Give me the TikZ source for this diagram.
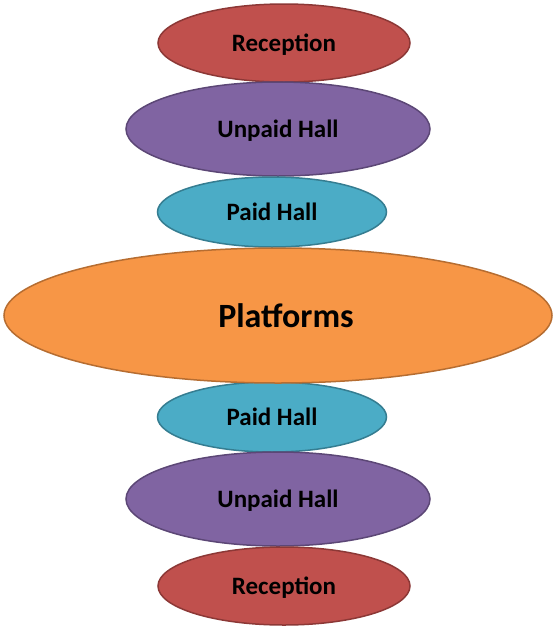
\documentclass[tikz,border=0pt]{standalone}
\usepackage{fontspec}
\setmainfont{Carlito}
\usetikzlibrary{shapes.geometric}
\definecolor{recfill}{HTML}{C0504D}
\definecolor{recline}{HTML}{8C3836}
\definecolor{unpfill}{HTML}{8064A2}
\definecolor{unpline}{HTML}{5C4776}
\definecolor{paidfill}{HTML}{4BACC6}
\definecolor{paidline}{HTML}{357D91}
\definecolor{platfill}{HTML}{F79646}
\definecolor{platline}{HTML}{B66D31}

\begin{document}
\begin{tikzpicture}[x=1pt,y=-1pt]
		\tikzstyle{zone}=[draw,shape=ellipse,inner sep=0pt,text depth=0pt,line width=1.5pt,font=\bfseries\fontsize{25}{30}\selectfont]
		\tikzstyle{reception}=[zone,fill=recfill,draw=recline,minimum width=252pt,minimum height=78pt]
		\tikzstyle{unpaid}=[zone,fill=unpfill,draw=unpline,minimum width=304pt,minimum height=94pt]
		\tikzstyle{paid}=[zone,fill=paidfill,draw=paidline,minimum width=229pt,minimum height=70pt]
		\tikzstyle{platform}=[zone,fill=platfill,draw=platline,minimum width=548pt,minimum height=135pt,font=\bfseries\fontsize{34}{40}\selectfont]

		\useasboundingbox (0,0) rectangle (553,627);

		% upper side
		\node[reception](rec1) at (284,43){Reception};
		\node[unpaid](unp1) at (278,129){Unpaid Hall};
		\node[paid](paid1) at (272,212){Paid Hall};

		% lower side
		\node[paid](paid2) at (272,417){Paid Hall};
		\node[unpaid](unp2) at (278,499){Unpaid Hall};
		\node[reception](rec2) at (284,586){Reception};

		\node[platform](plat) at (278,315.5){\hspace*{16pt}Platforms};
	\end{tikzpicture}
\end{document}
